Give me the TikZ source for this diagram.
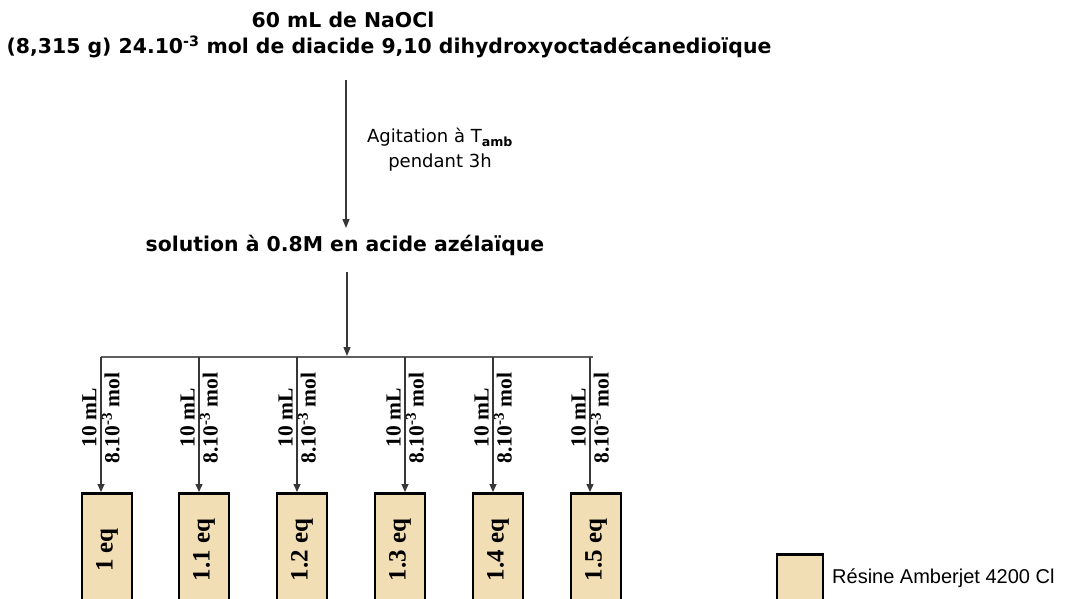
\documentclass[tikz,border=0pt]{standalone}
\usepackage{fontspec}
\setmainfont{Liberation Serif}
\newfontfamily\titlefont{DejaVu Sans}
\newfontfamily\arialfont{Liberation Sans}
\usetikzlibrary{arrows.meta}
\definecolor{resin}{RGB}{242,222,180}
\definecolor{linec}{RGB}{55,55,55}
\tikzset{
  titletxt/.style={font=\titlefont\bfseries\fontsize{20.4}{24}\selectfont, inner sep=0pt},
  labeltxt/.style={font=\titlefont\fontsize{18}{25}\selectfont, align=center, inner sep=0pt},
  flow/.style={draw=linec, line width=1.3pt, -{Triangle[length=9pt,width=7pt]}},
  bar/.style={draw=linec!80, line width=1.6pt},
  branch/.style={draw=linec, line width=1.2pt, -{Triangle[length=8pt,width=7pt]}},
  branchtxt/.style={rotate=90, font=\bfseries\fontsize{21.5}{23}\selectfont, align=center, inner sep=0pt},
  resinbox/.style={draw=black, line width=2.6pt, fill=resin, minimum width=50pt, minimum height=160pt, anchor=north, inner sep=0pt},
  eqtxt/.style={rotate=90, font=\bfseries\fontsize{25}{28}\selectfont, inner sep=0pt},
  legendtxt/.style={font=\arialfont\fontsize{20}{22}\selectfont, anchor=west, inner sep=0pt}
}
\begin{document}
\begin{tikzpicture}[x=1pt,y=-1pt]
\clip (0,0) rectangle (1070,599);
\fill[white] (0,0) rectangle (1070,599);

\node[titletxt] (t1) at (343,20) {60 mL de NaOCl};
\node[titletxt] (t2) at (389,47) {(8,315 g) 24.10\textsuperscript{-3} mol de diacide 9,10 dihydroxyoctadécanedioïque};

\coordinate (a1s) at (346,80);
\coordinate (a1e) at (346,228);
\draw[flow] (a1s) -- (a1e);
\node[labeltxt] (agit) at (440,150) {Agitation à T\textsubscript{\bfseries amb}\\pendant 3h};

\node[titletxt] (sol) at (345,245) {solution à 0.8M en acide azélaïque};

\coordinate (a2s) at (347,272);
\coordinate (a2e) at (347,356);
\draw[flow] (a2s) -- (a2e);

\coordinate (bl) at (101,357);
\coordinate (br) at (593,357);
\draw[bar] (bl) -- (br);

\foreach \i/\ax/\bx/\lab in {1/101/107/1 eq, 2/199/204/1.1 eq, 3/297/302/1.2 eq, 4/405/400/1.3 eq, 5/493/498/1.4 eq, 6/590/596/1.5 eq}{
  \coordinate (b\i) at (\ax,357);
  \node[resinbox] (box\i) at (\bx,492) {};
  \draw[branch] (b\i) -- (b\i |- box\i.north);
  \node[branchtxt] (bt\i) at (\ax,418) {10 mL\\8.10\textsuperscript{-3} mol};
  \node[eqtxt] (eq\i) at (\bx,550) {\lab};
}

\node[draw=black, line width=2.6pt, fill=resin, minimum width=46pt, minimum height=80pt, anchor=north, inner sep=0pt] (leg) at (800,553) {};
\node[legendtxt] (legt) at (832,578) {Résine Amberjet 4200 Cl};
\end{tikzpicture}
\end{document}
